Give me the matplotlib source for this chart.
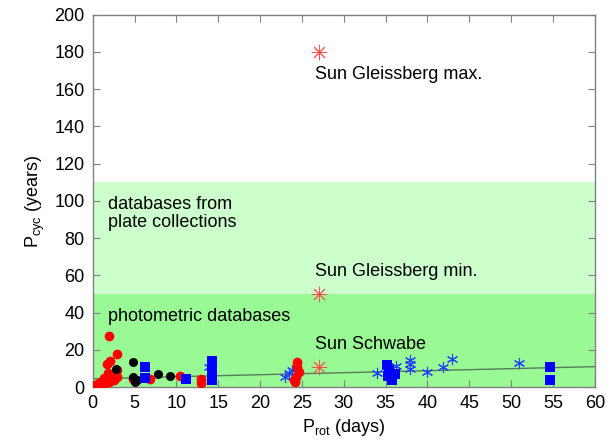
import matplotlib
matplotlib.use("Agg")
import matplotlib.pyplot as plt

plt.rcParams['font.family'] = ['Liberation Sans', 'DejaVu Sans']

# ---- data ----
red_x = [0.5, 1.2, 0.8, 1.9, 2.6, 1.4, 2.9, 2.0, 1.8, 2.9, 1.7, 2.1, 2.9, 1.9,
         0.3, 1.0, 4.8, 6.8, 10.4, 12.9, 12.9, 24.4, 24.4, 24.6, 24.3, 24.0, 24.2]
red_y = [0.7, 1.0, 2.0, 2.8, 3.7, 4.7, 5.6, 6.5, 7.4, 9.1, 12.4, 14.3, 17.7, 27.4,
         1.2, 1.6, 4.1, 4.1, 5.9, 4.1, 2.3, 13.6, 10.9, 8.2, 5.6, 3.8, 2.5]

black_x = [2.8, 4.8, 4.8, 5.0, 5.3, 7.8, 9.2]
black_y = [9.5, 13.5, 5.7, 2.6, 3.8, 6.9, 5.9]

square_x = [6.2, 6.2, 11.2, 14.3, 14.3, 14.3, 35.2, 35.4, 35.3, 35.8, 36.1, 54.6, 54.6]
square_y = [10.9, 4.8, 4.5, 13.9, 8.8, 4.0, 11.8, 9.0, 6.2, 3.9, 6.8, 10.9, 3.8]

star_x = [13.9, 23.0, 23.5, 23.8, 34.0, 36.2, 37.9, 37.9, 37.9, 39.9, 41.9, 42.9, 50.9]
star_y = [10.9, 5.5, 7.5, 9.1, 7.4, 11.2, 14.5, 12.4, 9.8, 8.0, 10.6, 14.9, 13.2]

sun_x = [27, 27, 27]
sun_y = [180, 50, 11]
sun_labels = ["Sun Gleissberg max.", "Sun Gleissberg min.", "Sun Schwabe"]

fit_x = [0, 60]
fit_y = [4.5, 11.0]

band_plate = (50, 110)
band_phot = (0, 50)

x_ticks = list(range(0, 61, 5))
y_ticks = list(range(0, 201, 20))

# ---- figure ----
fig = plt.figure(figsize=(6.10, 4.46), dpi=100)
ax = fig.add_axes([0.152, 0.132, 0.823, 0.835])

ax.axhspan(*band_plate, color='#ccffcc', lw=0, zorder=0)
ax.axhspan(*band_phot, color='#99f994', lw=0, zorder=0)

ax.plot(fit_x, fit_y, color='#5a7a5a', lw=1.0, zorder=1)

ax.plot(star_x, star_y, ls='none', marker=(6, 2, 0), ms=8, mew=0.8,
        color='#2040ff', zorder=2)
ax.plot(red_x, red_y, ls='none', marker='o', ms=7, color='#ff0000', mew=0, zorder=3)
ax.plot(black_x, black_y, ls='none', marker='o', ms=6.5, color='black', mew=0, zorder=4)
ax.plot(square_x, square_y, ls='none', marker='s', ms=7, color='#0000ff', mew=0, zorder=5)
ax.plot(sun_x, sun_y, ls='none', marker=(8, 2, 0), ms=11, mew=0.7,
        color='#ff5050', zorder=6)

offsets = [-12, 12, 12]
for x, y, lab, off in zip(sun_x, sun_y, sun_labels, offsets):
    ax.text(x - 0.4, y + off, lab, fontsize=13, va='center', ha='left')

ax.text(1.8, 98, "databases from", fontsize=13, va='center')
ax.text(1.8, 88.5, "plate collections", fontsize=13, va='center')
ax.text(1.8, 38, "photometric databases", fontsize=13, va='center')

ax.set_xlim(0, 60)
ax.set_ylim(0, 200)
ax.set_xticks(x_ticks)
ax.set_yticks(y_ticks)
ax.tick_params(direction='in', top=True, right=True, length=5, width=0.8,
               color='#808080', labelsize=13, pad=6)
for s in ax.spines.values():
    s.set_color('#808080')
    s.set_linewidth(1.0)

ax.set_xlabel(r"P$_{\mathregular{rot}}$ (days)", fontsize=13, labelpad=3)
ax.set_ylabel(r"P$_{\mathregular{cyc}}$ (years)", fontsize=13, labelpad=5)

fig.savefig("out.png", dpi=100)
